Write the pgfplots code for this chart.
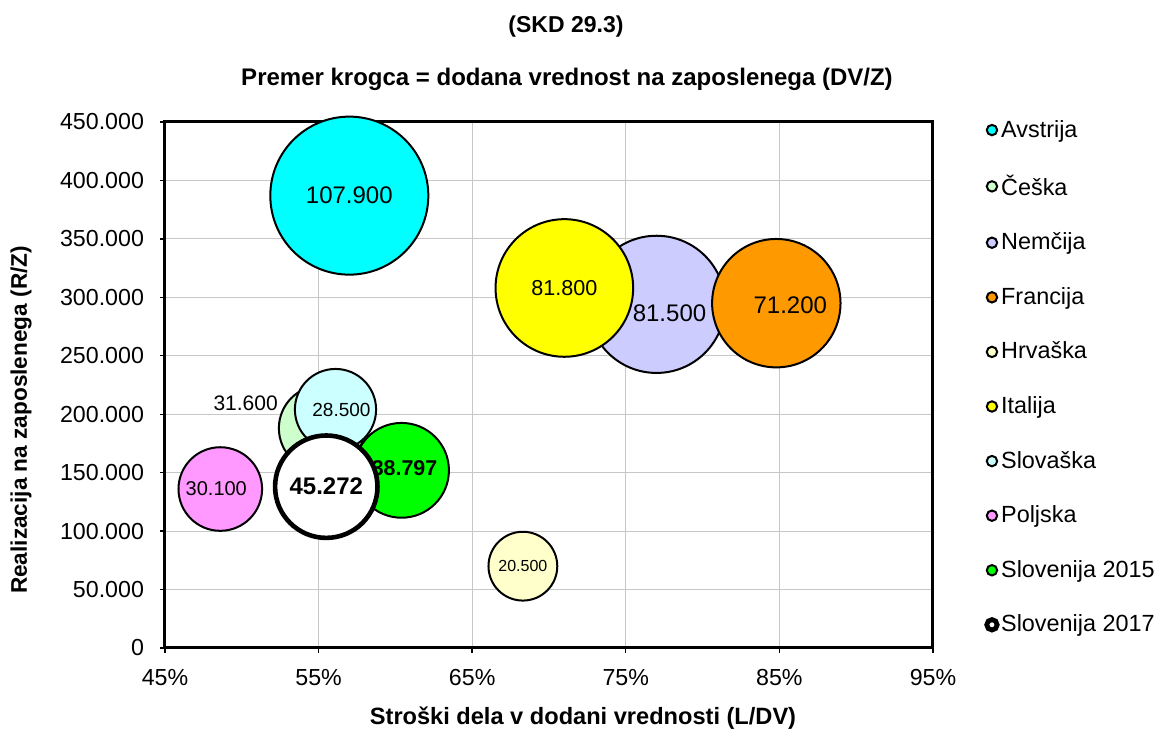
\documentclass[border=0pt]{standalone}
\usepackage{fontspec}
\setmainfont{Liberation Sans}
\usepackage{pgfplots}
\pgfplotsset{compat=1.18}
\definecolor{cAvs}{RGB}{0,255,255}
\definecolor{cCes}{RGB}{204,255,204}
\definecolor{cNem}{RGB}{204,204,255}
\definecolor{cFra}{RGB}{255,153,0}
\definecolor{cHrv}{RGB}{255,255,204}
\definecolor{cIta}{RGB}{255,255,0}
\definecolor{cSlk}{RGB}{204,255,255}
\definecolor{cPol}{RGB}{255,153,255}
\definecolor{cSlo}{RGB}{0,255,0}
\begin{document}
\begin{tikzpicture}
\path[use as bounding box] (-82.5pt,-42.5pt) rectangle (499pt,324pt);
\begin{axis}[
  at={(0pt,0pt)}, anchor=south west,
  scale only axis, width=384pt, height=263pt,
  xmin=45, xmax=95, ymin=0, ymax=450000,
  xtick={45,55,65,75,85,95},
  xticklabels={45\%,55\%,65\%,75\%,85\%,95\%},
  ytick={0,50000,100000,150000,200000,250000,300000,350000,400000,450000},
  scaled y ticks=false,
  yticklabel style={xshift=-4.5pt, /pgf/number format/.cd, fixed, 1000 sep={.}, assume math mode=true},
  tick label style={font=\fontsize{11.6}{13}\selectfont, text=black},
  xticklabel style={yshift=-4.5pt},
  xtick pos=left, ytick pos=left,
  tick align=outside, major tick length=2.5pt,
  tick style={black, line width=0.7pt},
  axis line style={black, line width=1.5pt},
  grid=major, major grid style={black!22, line width=0.6pt},
  legend style={draw=none, fill=none, at={(1.0695,1.012)}, anchor=north west,
    font=\fontsize{11.7}{13}\selectfont, row sep=13.3pt, inner sep=0pt,
    cells={anchor=west}, /tikz/every even column/.append style={column sep=3pt}},
  legend cell align=left,
  legend image code/.code={\draw[#1, mark size=2.6pt, mark repeat=1, mark phase=1] plot coordinates {(0pt,0pt)};},
  every node near coord/.append style={anchor=center, text=black, font=\fontsize{9.5}{11}\selectfont},
]
\addplot[black, only marks, mark=*, mark size=39.5pt, mark options={fill=cAvs, draw=black, line width=1pt},
  nodes near coords={107.900}, every node near coord/.append style={font=\fontsize{12}{14}\selectfont}] coordinates {(57.0,387000)};
\addlegendentry{Avstrija}
\addplot[black, only marks, mark=*, mark size=21.4pt, mark options={fill=cCes, draw=black, line width=1pt},
  nodes near coords={31.600}, every node near coord/.append style={xshift=-38pt, yshift=12.5pt, font=\fontsize{10.5}{12}\selectfont}] coordinates {(55.2,188000)};
\addlegendentry{Češka}
\addplot[black, only marks, mark=*, mark size=34.3pt, mark options={fill=cNem, draw=black, line width=1pt},
  nodes near coords={81.500}, every node near coord/.append style={xshift=6.5pt, yshift=-4.5pt, font=\fontsize{12}{14}\selectfont}] coordinates {(77.0,294000)};
\addlegendentry{Nemčija}
\addplot[black, only marks, mark=*, mark size=32.1pt, mark options={fill=cFra, draw=black, line width=1pt},
  nodes near coords={71.200}, every node near coord/.append style={xshift=7pt, yshift=-1pt, font=\fontsize{12}{14}\selectfont}] coordinates {(84.8,295000)};
\addlegendentry{Francija}
\addplot[black, only marks, mark=*, mark size=17.2pt, mark options={fill=cHrv, draw=black, line width=1pt},
  nodes near coords={20.500}, every node near coord/.append style={font=\fontsize{8}{10}\selectfont}] coordinates {(68.3,70000)};
\addlegendentry{Hrvaška}
\addplot[black, only marks, mark=*, mark size=34.4pt, mark options={fill=cIta, draw=black, line width=1pt},
  nodes near coords={81.800}, every node near coord/.append style={font=\fontsize{10.8}{12}\selectfont}] coordinates {(71.0,308000)};
\addlegendentry{Italija}
\addplot[black, only marks, mark=*, mark size=20.3pt, mark options={fill=cSlk, draw=black, line width=1pt},
  nodes near coords={28.500}, every node near coord/.append style={xshift=3pt}] coordinates {(56.1,204000)};
\addlegendentry{Slovaška}
\addplot[black, only marks, mark=*, mark size=20.9pt, mark options={fill=cPol, draw=black, line width=1pt},
  nodes near coords={30.100}, every node near coord/.append style={xshift=-2pt, font=\fontsize{10}{12}\selectfont}] coordinates {(48.6,136000)};
\addlegendentry{Poljska}
\addplot[black, only marks, mark=*, mark size=23.7pt, mark options={fill=cSlo, draw=black, line width=1pt},
  nodes near coords={38.797}, every node near coord/.append style={xshift=1.5pt, yshift=1pt, font=\fontsize{10.7}{12}\selectfont\bfseries}] coordinates {(60.4,152000)};
\addlegendentry{Slovenija 2015}
\addplot[black, only marks, mark=*, mark size=25.6pt, mark options={fill=white, draw=black, line width=2.3pt},
  legend image post style={mark size=3pt, mark options={fill=white, draw=black, line width=2.4pt}},
  nodes near coords={45.272}, every node near coord/.append style={font=\fontsize{12}{14}\selectfont\bfseries}] coordinates {(55.5,138000)};
\addlegendentry{Slovenija 2017}
\end{axis}
\node[font=\fontsize{11.5}{13}\selectfont\bfseries] at (200.5pt,310.5pt) {(SKD 29.3)};
\node[font=\fontsize{12}{14}\selectfont\bfseries] at (201pt,284.5pt) {Premer krogca = dodana vrednost na zaposlenega (DV/Z)};
\node[font=\fontsize{11.8}{13}\selectfont\bfseries] at (209pt,-35pt) {Stroški dela v dodani vrednosti (L/DV)};
\node[font=\fontsize{11.3}{13}\selectfont\bfseries, rotate=90] at (-72pt,114pt) {Realizacija na zaposlenega (R/Z)};
\end{tikzpicture}
\end{document}
